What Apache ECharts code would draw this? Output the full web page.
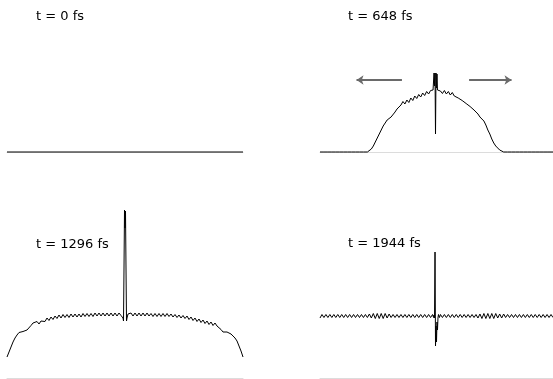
<!DOCTYPE html>
<html>
<head>
<meta charset="utf-8">
<script src="https://cdn.jsdelivr.net/npm/echarts@6/dist/echarts.min.js"></script>
<style>html,body{margin:0;padding:0;background:#fff}#c{width:553px;height:379px}</style>
</head>
<body>
<div id="c"></div>
<script>
// Panel labels
var panelLabels = ['t = 0 fs', 't = 648 fs', 't = 1296 fs', 't = 1944 fs'];

// Position along the chain (arbitrary units, centre = 0)
var positions = [
  -118,-116,-114,-112,-110,-108,-106,-104,-102,-100,-98,-96,-94,-92,-90,-88,-86,-84,-82,-80,
  -78,-76,-74,-72,-70,-68,-66,-64,-62,-60,-58,-56,-54,-52,-50,-48,-46,-44,-42,-40,
  -38,-36,-34,-32,-30,-28,-26,-24,-22,-20,-18,-16,-14,-12,-10,-8,-6,
  -4,-3.5,-3,-2.5,-2,-1.5,-1,-0.5,0,0.5,1,1.5,2,2.5,3,3.5,4,
  6,8,10,12,14,16,18,20,22,24,26,28,30,32,34,36,38,40,42,44,46,48,50,52,54,56,58,60,
  62,64,66,68,70,72,74,76,78,80,82,84,86,88,90,92,94,96,98,100,102,104,106,108,110,112,114,116,118
];

// t = 0 fs : flat
var t0Positions = [-118, 118];
var t0Values = [0, 0];

// t = 648 fs
var t648Values = [
  0,0,0,0,0,0,0,0,0,0,0,0,0,0,0,0,0,0,0,0,0,0,0,0,0,
  1,3,6,10,14,18,22,26,29,32,34,35,37,40,43,45,
  47,50.5,48,52,49.5,54,51.5,56,53.5,57.5,55,59,56.5,60.5,58,61.5,
  59.5,62,64,79,66,79,18,79,64,78,62,61,63,61,62,62,61,
  58.5,61.5,58,60.5,57,59.5,56,58,54,56,51.5,53,48.5,49,45.5,44.5,42,40,38,35,33,31,27,22,18,13,9,6,4,2,1,
  0,0,0,0,0,0,0,0,0,0,0,0,0,0,0,0,0,0,0,0,0,0,0,0,0,0
];

// t = 1296 fs
var t1296Values = [
  21,26,31,36,40,43,45.5,44,46.5,45,48,50,52.5,55,53.5,56.5,54,57,59,56.5,60,57.5,61,58.5,62,
  59.5,63,60,63.5,60.5,63.5,60.5,64,61,64,61,64,61,64.5,61.5,64.5,61.5,64.5,61.5,65,62,65,62,65,62,65,62,65,62,65,62,65,
  62.5,64,64,62,60,57,110,168,150,167,110,57,60,62,64,64,62.5,
  65,62,65,62,65,62,65,62,65,62,64.5,61.5,64.5,61.5,64.5,61.5,64.5,61.5,64.5,61.5,
  64,61,63.5,60.5,63,60,62.5,59.5,62,58.5,61,57.5,60,56.5,59,55.5,58,54.5,57,53.5,56,52.5,55,52,
  52.5,48.5,46,45,46,45,44,42,40,37,32,27,21
];

// t = 1944 fs
var t1944Values = [
  60,63.5,60.5,63.5,60.5,63.5,60.5,63.5,60.5,63.5,60.5,63.5,60.5,63.5,60.5,63.5,60.5,63.5,60.5,63.5,
  60.5,63.5,60.5,63.5,60.5,64,60,64.5,59.5,64.5,59.5,64.5,59.5,64.5,60,64,60.5,63.5,60.5,63.5,
  60.5,63.5,60.5,63.5,60.5,63.5,60.5,63.5,60.5,63.5,60.5,63.5,60.5,63.5,60.5,63.5,60.5,
  63.5,62,60.5,63,60,126,32,52,36,56,48,60,63.5,62,60.5,62,63.5,
  60.5,63.5,60.5,63.5,60.5,63.5,60.5,63.5,60.5,63.5,60.5,63.5,60.5,63.5,60.5,63.5,60.5,63.5,
  60,64,59.5,64.5,59.5,64.5,59.5,64.5,59.5,64.5,60,64,60,64,60.5,63.5,
  60.5,63.5,60.5,63.5,60.5,63.5,60.5,63.5,60.5,63.5,60.5,63.5,60.5,63.5,60.5,63.5,60.5,63.5,60.5,63.5,60.5,63.5,60.5
];

// direction arrows in the t = 648 fs panel: [fromX, toX, y]
var arrowSpans = [[-35, -81, 72], [33, 76, 72]];

function pairs(xs, ys) { return xs.map(function (x, i) { return [x, ys[i]]; }); }

var gridDefs = [
  {left: 7, top: 2, width: 236, height: 150, ymax: 150},
  {left: 320, top: 2, width: 236, height: 150, ymax: 150},
  {left: 7, top: 203, width: 236, height: 175, ymax: 175},
  {left: 320, top: 203, width: 236, height: 175, ymax: 175}
];
var seriesData = [
  pairs(t0Positions, t0Values),
  pairs(positions, t648Values),
  pairs(positions, t1296Values),
  pairs(positions, t1944Values)
];
var titlePos = [[36, 10], [348, 10], [36, 238], [348, 237]];

var font = 'DejaVu Sans, Verdana, sans-serif';
var option = {
  animation: false,
  backgroundColor: '#fff',
  title: panelLabels.map(function (t, i) {
    return {text: t, left: titlePos[i][0], top: titlePos[i][1], padding: 0,
      textStyle: {fontFamily: font, fontSize: 13, fontWeight: 'normal', color: '#000'}};
  }),
  grid: gridDefs.map(function (g) {
    return {left: g.left, top: g.top, width: g.width, height: g.height, containLabel: false};
  }),
  xAxis: gridDefs.map(function (g, i) {
    return {type: 'value', gridIndex: i, min: -118, max: 118,
      axisLine: {show: true, onZero: false, lineStyle: {color: '#dcdcdc', width: 1}},
      axisTick: {show: false}, axisLabel: {show: false}, splitLine: {show: false}};
  }),
  yAxis: gridDefs.map(function (g, i) {
    return {type: 'value', gridIndex: i, min: 0, max: g.ymax, show: false,
      splitLine: {show: false}};
  }),
  series: seriesData.map(function (d, i) {
    var s = {type: 'line', xAxisIndex: i, yAxisIndex: i, data: d, showSymbol: false,
      symbol: 'none', silent: true, clip: false,
      lineStyle: {color: '#000', width: 1}, emphasis: {disabled: true}};
    if (i === 1) {
      s.markLine = {silent: true, symbol: ['none', 'arrow'], symbolSize: [7, 7],
        lineStyle: {color: '#6a6a6a', width: 2, type: 'solid'},
        label: {show: false}, emphasis: {disabled: true},
        data: arrowSpans.map(function (a) {
          return [{coord: [a[0], a[2]]}, {coord: [a[1], a[2]]}];
        })};
    }
    return s;
  })
};
var chart = echarts.init(document.getElementById('c'), null, {renderer: 'canvas'});
chart.setOption(option);
</script>
</body>
</html>
